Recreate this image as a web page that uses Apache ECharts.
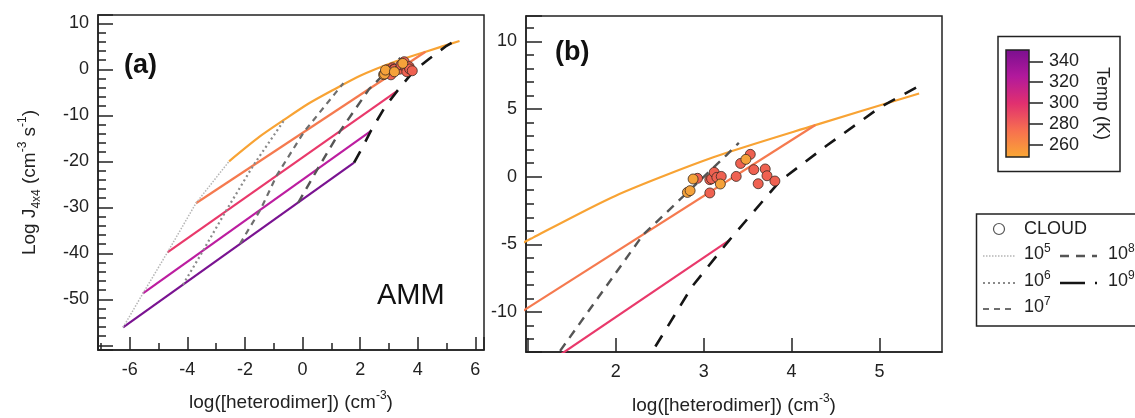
<!DOCTYPE html>
<html><head><meta charset="utf-8">
<script src="https://cdn.jsdelivr.net/npm/echarts@6/dist/echarts.min.js"></script>
<style>html,body{margin:0;padding:0;background:#fff}#c{width:1135px;height:418px}</style>
</head><body><div id="c"></div>
<script>
// ---------- data (log[heterodimer], log J) ----------
const orangeX  = [-2.55, -1.48, -0.62, 0.2, 1.06, 2.0, 3.11, 4.25, 5.45];
const orangeY  = [-20.0, -14.6, -10.9, -7.5, -4.5, -1.4, 1.43, 3.77, 6.15];
const coralX   = [-3.70, 4.27];
const coralY   = [-29.1, 3.82];
const pinkX    = [-4.69, 3.29];
const pinkY    = [-39.8, -4.7];
const magentaX = [-5.54, 2.38];
const magentaY = [-48.7, -13.4];
const purpleX  = [-6.23, 1.79];
const purpleY  = [-56.1, -20.3];

const iso5X = [-6.23, -5.54, -4.69, -3.70, -2.55];
const iso5Y = [-56.1, -48.7, -39.8, -29.1, -20.0];
const iso6X = [-4.15, -3.45, -2.67, -1.71, -0.62];
const iso6Y = [-46.8, -39.4, -30.9, -20.9, -10.9];
const iso7X = [-2.17, -1.45, -0.9, 0.05, 1.42];
const iso7Y = [-37.9, -30.4, -23.1, -13.6, -3.0];
const iso8X = [-0.15, 0.53, 1.32, 2.31, 3.26, 3.4];
const iso8Y = [-29.0, -21.6, -13.3, -4.3, 1.6, 2.5];
const iso9X = [1.79, 2.05, 2.38, 2.87, 3.29, 3.87, 4.4, 5.0, 5.45];
const iso9Y = [-20.3, -17.3, -13.3, -8.1, -4.7, -0.3, 2.3, 5.1, 6.7];

// CLOUD measurements
const cloudColdX = [2.815, 2.846, 2.88, 3.19, 3.48];
const cloudColdY = [-1.16, -1.03, -0.17, -0.54, 1.28];
const cloudWarmX = [2.93, 3.07, 3.09, 3.12, 3.15, 3.20, 3.07, 3.37, 3.42, 3.53, 3.57, 3.62, 3.70, 3.72, 3.81];
const cloudWarmY = [-0.12, -0.22, -0.15, 0.32, -0.05, 0.02, -1.2, 0.02, 0.98, 1.65, 0.52, -0.52, 0.57, 0.07, -0.32];

const tempTicks = [260, 280, 300, 320, 340];
const legendIsoLabels = ['5', '6', '7', '8', '9'];

// ---------- styling ----------
const FONT = "'Liberation Sans', Arial, sans-serif";
const INK = '#222';
const tempColors = ['#F8A334', '#F57A4F', '#E9396B', '#BC1EA0', '#7A1391'];
const isoStyles = [
  {color: '#b5b5b5', width: 1.5, type: [1.5, 1.5]},
  {color: '#8a8a8a', width: 2.2, type: [2, 3]},
  {color: '#6e6e6e', width: 2.2, type: [6, 5]},
  {color: '#555555', width: 2.4, type: [9, 7]},
  {color: '#151515', width: 2.6, type: [13, 11]}
];

function pairs(xs, ys) { return xs.map((x, i) => [x, ys[i]]); }

const tempLines = [
  [orangeX, orangeY], [coralX, coralY], [pinkX, pinkY], [magentaX, magentaY], [purpleX, purpleY]
];
const isoLines = [[iso5X, iso5Y], [iso6X, iso6Y], [iso7X, iso7Y], [iso8X, iso8Y], [iso9X, iso9Y]];

const series = [];
function addLine(xs, ys, ls, gi, z, smooth) {
  series.push({
    type: 'line', xAxisIndex: gi, yAxisIndex: gi, data: pairs(xs, ys),
    showSymbol: false, symbol: 'none', z: z, silent: true,
    smooth: smooth || false,
    lineStyle: {color: ls.color, width: ls.width, type: ls.type || 'solid', cap: 'butt'}
  });
}
function addScatter(xs, ys, color, gi) {
  series.push({
    type: 'scatter', xAxisIndex: gi, yAxisIndex: gi, data: pairs(xs, ys),
    symbolSize: 10, z: 6,
    itemStyle: {color: color, borderColor: '#3a2a22', borderWidth: 0.8, opacity: 1}
  });
}
// panel (a)
tempLines.forEach((l, i) => addLine(l[0], l[1], {color: tempColors[i], width: 2.2}, 0, 2, i === 0 ? 0.25 : false));
isoLines.forEach((l, i) => addLine(l[0], l[1], isoStyles[i], 0, 3, false));
addScatter(cloudWarmX, cloudWarmY, '#EF6151', 0);
addScatter(cloudColdX, cloudColdY, '#F5A23A', 0);
// panel (b)
tempLines.forEach((l, i) => addLine(l[0], l[1], {color: tempColors[i], width: 2.2}, 1, 2, i === 0 ? 0.25 : false));
addLine(iso8X, iso8Y, isoStyles[3], 1, 3, false);
addLine(iso9X, iso9Y, isoStyles[4], 1, 3, false);
addScatter(cloudWarmX, cloudWarmY, '#EF6151', 1);
addScatter(cloudColdX, cloudColdY, '#F5A23A', 1);

const nameRich = {
  n: {fontSize: 19, lineHeight: 26, fontFamily: FONT, color: INK},
  sup: {fontSize: 12, lineHeight: 12, verticalAlign: 'top', fontFamily: FONT, color: INK},
  sub: {fontSize: 12, lineHeight: 12, verticalAlign: 'bottom', fontFamily: FONT, color: INK}
};
const xName = '{n|log([heterodimer]) (cm}{sup|-3}{n|)}';

function valueAxis(o) {
  return Object.assign({
    type: 'value',
    axisLine: {show: true, onZero: false, lineStyle: {color: INK, width: 1.5}},
    axisTick: {show: true, inside: true, length: 14, lineStyle: {color: INK, width: 1.5}},
    minorTick: {show: false},
    splitLine: {show: false},
    axisLabel: {showMinLabel: false, showMaxLabel: false, fontSize: 18, color: INK, fontFamily: FONT, margin: 9},
    nameLocation: 'middle',
    nameMoveOverlap: false,
    nameTextStyle: {rich: nameRich}
  }, o);
}

const option = {
  animation: false,
  backgroundColor: '#fff',
  grid: [
    {left: 98, top: 15, width: 386, height: 335, show: true, borderColor: INK, borderWidth: 1.5,
     backgroundColor: 'transparent', outerBoundsMode: 'none', containLabel: false},
    {left: 526, top: 16, width: 416, height: 336, show: true, borderColor: INK, borderWidth: 1.5,
     backgroundColor: 'transparent', outerBoundsMode: 'none', containLabel: false},
    {left: 1006, top: 50, width: 23, height: 107, show: true, borderColor: INK, borderWidth: 1.5,
     outerBoundsMode: 'none', containLabel: false,
     backgroundColor: {type: 'linear', x: 0, y: 0, x2: 0, y2: 1, colorStops: [
       {offset: 0, color: '#7a0f8f'}, {offset: 0.25, color: '#b2199c'}, {offset: 0.5, color: '#e1306f'},
       {offset: 0.75, color: '#f7704f'}, {offset: 1, color: '#f9a834'}]}}
  ],
  xAxis: [
    valueAxis({gridIndex: 0, min: -7.1, max: 6.3, splitNumber: 7,
      axisTick: {show: true, inside: true, length: 13, lineStyle: {color: INK, width: 1.5}},
      minorTick: {show: true, splitNumber: 2, length: 7, lineStyle: {color: INK, width: 1.5}},
      axisLabel: {showMinLabel: false, showMaxLabel: false, fontSize: 18, color: INK, fontFamily: FONT, margin: 11},
      name: xName, nameGap: 40}),
    valueAxis({gridIndex: 1, min: 0.98, max: 5.71, splitNumber: 5,
      axisTick: {show: true, inside: true, length: 14, lineStyle: {color: INK, width: 1.5}},
      axisLabel: {showMinLabel: false, showMaxLabel: false, fontSize: 18, color: INK, fontFamily: FONT, margin: 11,
        formatter: v => (v < 1.5 ? '' : String(v))},
      name: xName, nameGap: 41}),
    {type: 'value', gridIndex: 2, show: false, min: 0, max: 1}
  ],
  yAxis: [
    valueAxis({gridIndex: 0, min: -61, max: 11.8, splitNumber: 7,
      axisTick: {show: true, inside: true, length: 15, lineStyle: {color: INK, width: 1.5}},
      minorTick: {show: true, splitNumber: 5, length: 8, lineStyle: {color: INK, width: 1.5}},
      axisLabel: {showMinLabel: false, showMaxLabel: false, fontSize: 18, color: INK, fontFamily: FONT, margin: 9,
        formatter: v => (v < -55 ? '' : String(v))},
      name: '{n|Log J}{sub|4x4}{n| (cm}{sup|-3}{n| s}{sup|-1}{n|)}', nameGap: 55}),
    valueAxis({gridIndex: 1, min: -12.95, max: 11.87, splitNumber: 5,
      axisTick: {show: true, inside: true, length: 16, lineStyle: {color: INK, width: 1.5}},
      minorTick: {show: true, splitNumber: 5, length: 8, lineStyle: {color: INK, width: 1.5}}}),
    {type: 'value', gridIndex: 2, position: 'right', min: 248, max: 351,
      axisLine: {show: false, onZero: false},
      axisTick: {show: true, inside: false, length: 14, customValues: tempTicks, lineStyle: {color: INK, width: 1.5}},
      axisLabel: {show: true, customValues: tempTicks, margin: 20, fontSize: 18, color: INK, fontFamily: FONT},
      splitLine: {show: false},
      name: 'Temp (K)', nameLocation: 'middle', nameRotate: -90, nameGap: 64, nameMoveOverlap: false,
      nameTextStyle: {fontSize: 18, color: INK, fontFamily: FONT}}
  ],
  series: series,
  graphic: []
};

// panel labels
const g = option.graphic;
g.push({type: 'text', left: 124, top: 52, style: {text: '(a)', font: 'bold 27px ' + FONT, fill: '#111'}});
g.push({type: 'text', left: 555, top: 39, style: {text: '(b)', font: 'bold 27px ' + FONT, fill: '#111'}});
g.push({type: 'text', left: 377, top: 281, style: {text: 'AMM', font: '29px ' + FONT, fill: '#111'}});
// colorbar frame
g.push({type: 'rect', shape: {x: 998, y: 36.5, width: 122, height: 135}, style: {fill: 'none', stroke: INK, lineWidth: 1.5}});
// legend frame
g.push({type: 'rect', shape: {x: 976.5, y: 214, width: 200, height: 112}, style: {fill: 'none', stroke: INK, lineWidth: 1.5}});
g.push({type: 'circle', shape: {cx: 999, cy: 229, r: 5.5}, style: {fill: 'none', stroke: '#555', lineWidth: 1.2}});
const legRich = {
  n: {fontSize: 18, fontFamily: FONT, fill: INK, lineHeight: 22},
  s: {fontSize: 12, fontFamily: FONT, fill: INK, lineHeight: 12, verticalAlign: 'top'}
};
g.push({type: 'text', x: 1024, y: 229, style: {text: 'CLOUD', font: '18px ' + FONT, fill: INK, verticalAlign: 'middle'}});
const legPos = [
  {x1: 983, x2: 1016, y: 256, tx: 1024},
  {x1: 983, x2: 1016, y: 283, tx: 1024},
  {x1: 983, x2: 1016, y: 309, tx: 1024},
  {x1: 1060, x2: 1097, y: 256, tx: 1108},
  {x1: 1060, x2: 1097, y: 283, tx: 1108}
];
legendIsoLabels.forEach((lab, i) => {
  const p = legPos[i], s = isoStyles[i];
  g.push({type: 'line', shape: {x1: p.x1, y1: p.y, x2: p.x2, y2: p.y},
    style: {stroke: s.color, lineWidth: s.width, lineDash: i === 4 ? [25, 10] : s.type}});
  g.push({type: 'text', x: p.tx, y: p.y - 2, style: {text: '{n|10}{s|' + lab + '}', rich: legRich, verticalAlign: 'middle'}});
});

const chart = echarts.init(document.getElementById('c'), null, {renderer: 'canvas'});
chart.setOption(option);
</script></body></html>
